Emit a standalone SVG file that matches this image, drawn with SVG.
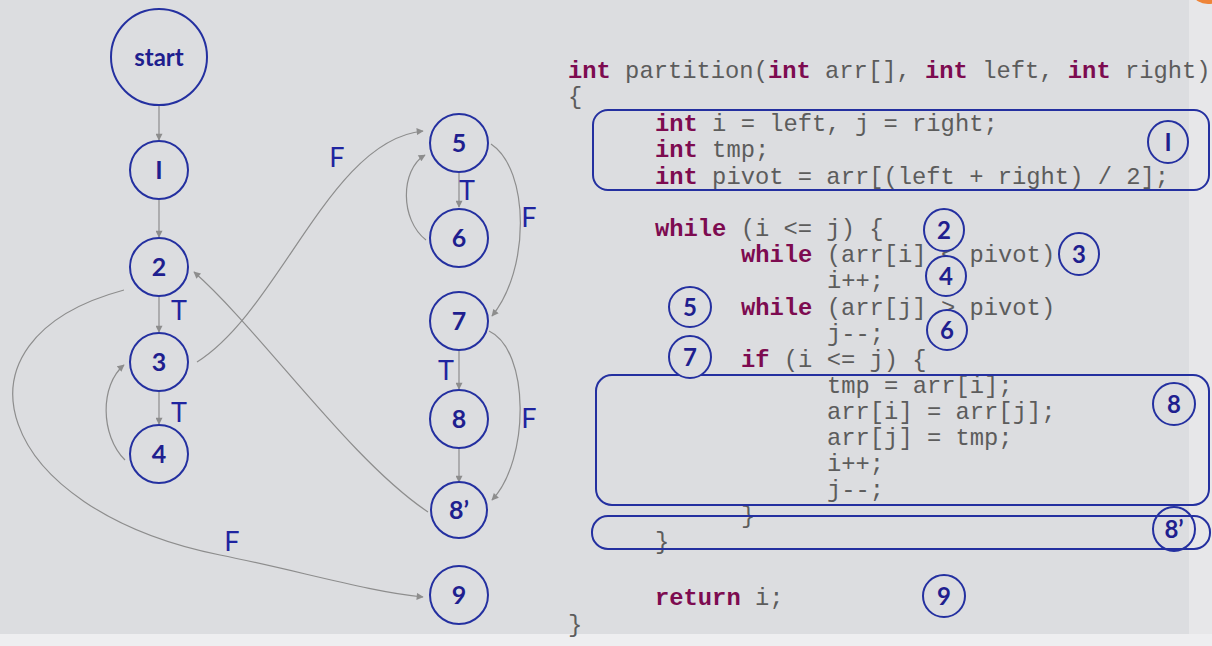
<svg xmlns="http://www.w3.org/2000/svg" width="1212" height="646" viewBox="0 0 1212 646">
<defs>
<style>
.bg{fill:#dcdde0}
.node circle{fill:none;stroke:#2430a0;stroke-width:2}
.lbl{font-family:Lato,"Open Sans","DejaVu Sans",sans-serif;font-weight:700;fill:#1f1f8f;text-anchor:middle}
.tf{font-family:Lato,"Open Sans","DejaVu Sans",sans-serif;font-size:27px;fill:#1f24a0;text-anchor:middle}
.edge{fill:none;stroke:#8d8d8d;stroke-width:1.2;marker-end:url(#ah)}
.code{font-family:"Liberation Mono","Courier New",monospace;font-size:23.8px;fill:#5c5c5c}
.kw{font-weight:700;fill:#7d0b50}
.box{fill:none;stroke:#2430a0;stroke-width:2}
.ann ellipse{fill:#dcdde0;stroke:#2430a0;stroke-width:2}
</style>
<marker id="ah" viewBox="0 0 10 10" refX="9" refY="5" markerWidth="8" markerHeight="7" markerUnits="userSpaceOnUse" orient="auto">
<path d="M0,0 L10,5 L0,10 Z" fill="#8d8d8d"/>
</marker>
</defs>
<rect class="bg" x="0" y="0" width="1212" height="646"/>
<rect x="1189" y="0" width="23" height="634" fill="#e7e7e9"/>
<rect x="0" y="634" width="1212" height="12" fill="#eeeef0"/>
<ellipse cx="1208" cy="-5" rx="14" ry="9" fill="#ee8438"/>

<g id="connectors">
<path class="edge" d="M159,106 L159,140"/>
<path class="edge" d="M159,200 L159,237"/>
<path class="edge" d="M159,297 L159,332"/>
<path class="edge" d="M159,392 L159,424"/>
<path class="edge" d="M125,460 C100,435 100,385 124,365"/>
<path class="edge" d="M197,362 C280,310 330,140 423,131"/>
<path class="edge" d="M428,512 C350,460 260,330 194,272"/>
<path class="edge" d="M124,290 C-62,340 -4,510 220,555 C300,571 370,592 423,597"/>
<path class="edge" d="M459,173 L459,207"/>
<path class="edge" d="M426,240 C400,220 400,170 425,155"/>
<path class="edge" d="M491,144 C530,170 530,270 492,316"/>
<path class="edge" d="M459,351 L459,389"/>
<path class="edge" d="M489,331 C530,350 530,460 492,500"/>
<path class="edge" d="M459,448 L459,482"/>
<text class="tf" x="179" y="320">T</text>
<text class="tf" x="179" y="422">T</text>
<text class="tf" x="467" y="200">T</text>
<text class="tf" x="446" y="380">T</text>
<text class="tf" x="337" y="167">F</text>
<text class="tf" x="529" y="227">F</text>
<text class="tf" x="529" y="428">F</text>
<text class="tf" x="232" y="551">F</text>
</g>

<g id="node-start" class="node"><circle cx="159" cy="57" r="48"/><text class="lbl" x="159" y="66" font-size="24">start</text></g>
<g id="node-1" class="node"><circle cx="159" cy="170" r="29"/><text class="lbl" x="159" y="179" font-size="25">I</text></g>
<g id="node-2" class="node"><circle cx="159" cy="267" r="29"/><text class="lbl" x="159" y="276" font-size="25">2</text></g>
<g id="node-3" class="node"><circle cx="159" cy="362" r="29"/><text class="lbl" x="159" y="371" font-size="25">3</text></g>
<g id="node-4" class="node"><circle cx="159" cy="454" r="29"/><text class="lbl" x="159" y="463" font-size="25">4</text></g>
<g id="node-5" class="node"><circle cx="459" cy="143" r="29"/><text class="lbl" x="459" y="152" font-size="25">5</text></g>
<g id="node-6" class="node"><circle cx="459" cy="238" r="29"/><text class="lbl" x="459" y="247" font-size="25">6</text></g>
<g id="node-7" class="node"><circle cx="459" cy="321" r="29"/><text class="lbl" x="459" y="330" font-size="25">7</text></g>
<g id="node-8" class="node"><circle cx="459" cy="419" r="29"/><text class="lbl" x="459" y="428" font-size="25">8</text></g>
<g id="node-8p" class="node"><circle cx="459" cy="510" r="28"/><text class="lbl" x="459" y="519" font-size="25">8’</text></g>
<g id="node-9" class="node"><circle cx="459" cy="595" r="29"/><text class="lbl" x="459" y="604" font-size="25">9</text></g>

<g id="code" class="code" xml:space="preserve">
<text x="568" y="78"><tspan class="kw">int</tspan> partition(<tspan class="kw">int</tspan> arr[], <tspan class="kw">int</tspan> left, <tspan class="kw">int</tspan> right)</text>
<text x="568" y="104">{</text>
<text x="655" y="131"><tspan class="kw">int</tspan> i = left, j = right;</text>
<text x="655" y="157"><tspan class="kw">int</tspan> tmp;</text>
<text x="655" y="184"><tspan class="kw">int</tspan> pivot = arr[(left + right) / 2];</text>
<text x="655" y="236"><tspan class="kw">while</tspan> (i &lt;= j) {</text>
<text x="741" y="262"><tspan class="kw">while</tspan> (arr[i] &lt; pivot)</text>
<text x="827" y="288">i++;</text>
<text x="741" y="315"><tspan class="kw">while</tspan> (arr[j] &gt; pivot)</text>
<text x="827" y="341">j--;</text>
<text x="741" y="367"><tspan class="kw">if</tspan> (i &lt;= j) {</text>
<text x="827" y="393">tmp = arr[i];</text>
<text x="827" y="419">arr[i] = arr[j];</text>
<text x="827" y="445">arr[j] = tmp;</text>
<text x="827" y="471">i++;</text>
<text x="827" y="497">j--;</text>
<text x="741" y="523">}</text>
<text x="655" y="549">}</text>
<text x="655" y="605"><tspan class="kw">return</tspan> i;</text>
<text x="568" y="632">}</text>
</g>

<g id="box-1"><rect class="box" x="593" y="110" width="616" height="80" rx="15"/></g>
<g id="box-8"><rect class="box" x="596" y="375" width="613" height="130" rx="16"/></g>
<g id="box-8p"><rect class="box" x="592" y="516" width="618" height="33" rx="16"/></g>

<g id="ann-1" class="ann"><ellipse cx="1168" cy="142" rx="20" ry="21"/><text class="lbl" x="1168" y="151" font-size="24">I</text></g>
<g id="ann-2" class="ann"><ellipse cx="944" cy="230" rx="20" ry="21"/><text class="lbl" x="944" y="239" font-size="24">2</text></g>
<g id="ann-3" class="ann"><ellipse cx="1079" cy="254" rx="20" ry="21"/><text class="lbl" x="1079" y="263" font-size="24">3</text></g>
<g id="ann-4" class="ann"><ellipse cx="946" cy="276" rx="20" ry="20"/><text class="lbl" x="946" y="285" font-size="24">4</text></g>
<g id="ann-5" class="ann"><ellipse cx="690" cy="307" rx="21" ry="20"/><text class="lbl" x="690" y="316" font-size="24">5</text></g>
<g id="ann-6" class="ann"><ellipse cx="947" cy="330" rx="20" ry="20"/><text class="lbl" x="947" y="339" font-size="24">6</text></g>
<g id="ann-7" class="ann"><ellipse cx="690" cy="357" rx="21" ry="21"/><text class="lbl" x="690" y="366" font-size="24">7</text></g>
<g id="ann-8" class="ann"><ellipse cx="1174" cy="404" rx="21" ry="21"/><text class="lbl" x="1174" y="413" font-size="24">8</text></g>
<g id="ann-8p" class="ann"><ellipse cx="1174" cy="529" rx="21" ry="22" style="fill:none"/><text class="lbl" x="1174" y="538" font-size="24">8’</text></g>
<g id="ann-9" class="ann"><ellipse cx="944" cy="596" rx="21" ry="21"/><text class="lbl" x="944" y="605" font-size="24">9</text></g>
</svg>
